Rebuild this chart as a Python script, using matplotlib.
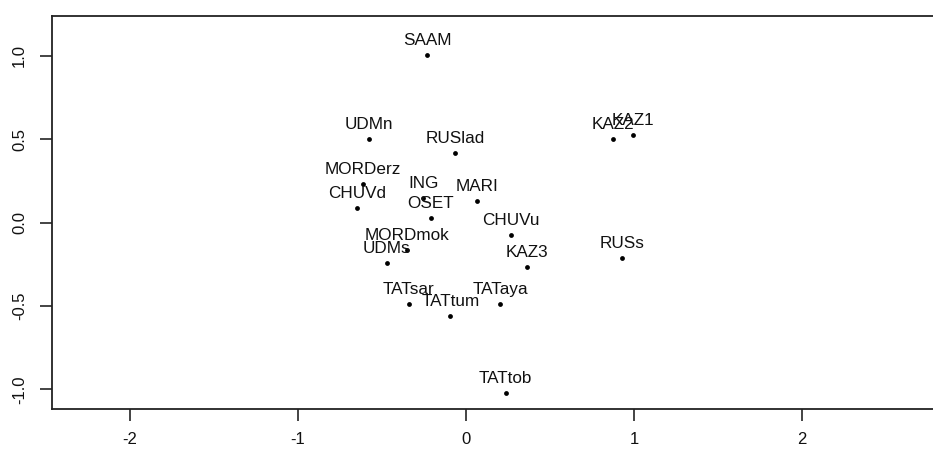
import matplotlib
matplotlib.use("Agg")
import matplotlib.pyplot as plt

# population labels and their coordinates
labels = ["SAAM", "UDMn", "RUSlad", "MORDerz", "CHUVd", "ING", "OSET", "MARI",
          "CHUVu", "MORDmok", "UDMs", "KAZ3", "TATsar", "TATaya", "TATtum",
          "TATtob", "KAZ2", "KAZ1", "RUSs"]
xs = [-0.230, -0.577, -0.065, -0.611, -0.647, -0.254, -0.208, 0.064,
      0.266, -0.349, -0.472, 0.363, -0.341, 0.204, -0.093,
      0.237, 0.873, 0.996, 0.927]
ys = [1.005, 0.501, 0.417, 0.230, 0.086, 0.149, 0.026, 0.131,
      -0.073, -0.164, -0.240, -0.266, -0.486, -0.486, -0.560,
      -1.022, 0.499, 0.527, -0.212]
xticks = [-2, -1, 0, 1, 2]
yticks = [-1.0, -0.5, 0.0, 0.5, 1.0]

plt.rcParams['font.family'] = ['Liberation Sans', 'DejaVu Sans']

W, H = 933, 449
fig = plt.figure(figsize=(W / 100, H / 100), dpi=100)
# axes box in pixels: left 52, top 16, bottom 409, right runs off the image
left, top, bottom, right = 52, 16, 409, 945
ax = fig.add_axes([left / W, 1 - bottom / H, (right - left) / W, (bottom - top) / H])

ax.scatter(xs, ys, s=12, color='black', zorder=3, linewidths=0)
for lab, x, y in zip(labels, xs, ys):
    ax.annotate(lab, (x, y), xytext=(0, 14.7), textcoords='offset pixels',
                ha='center', va='center', fontsize=12.3, color='#111111')

ax.set_xlim(-2.464, -2.464 + (right - left) / 168.0)
ax.set_ylim(-1.117, 1.239)

ax.set_xticks(xticks)
ax.set_xticklabels([str(t) for t in xticks])
ax.set_yticks(yticks)
ax.set_yticklabels(["%.1f" % t for t in yticks], rotation=90, va='center')
ax.tick_params(direction='out', length=8.5, width=1.1, labelsize=12,
               colors='#111111')
ax.tick_params(axis='x', pad=8)
ax.tick_params(axis='y', pad=9.5)

for side in ['left', 'bottom', 'top']:
    ax.spines[side].set_linewidth(1.3)
    ax.spines[side].set_color('#222222')
ax.spines['right'].set_visible(False)

fig.savefig("out.png", dpi=100)
